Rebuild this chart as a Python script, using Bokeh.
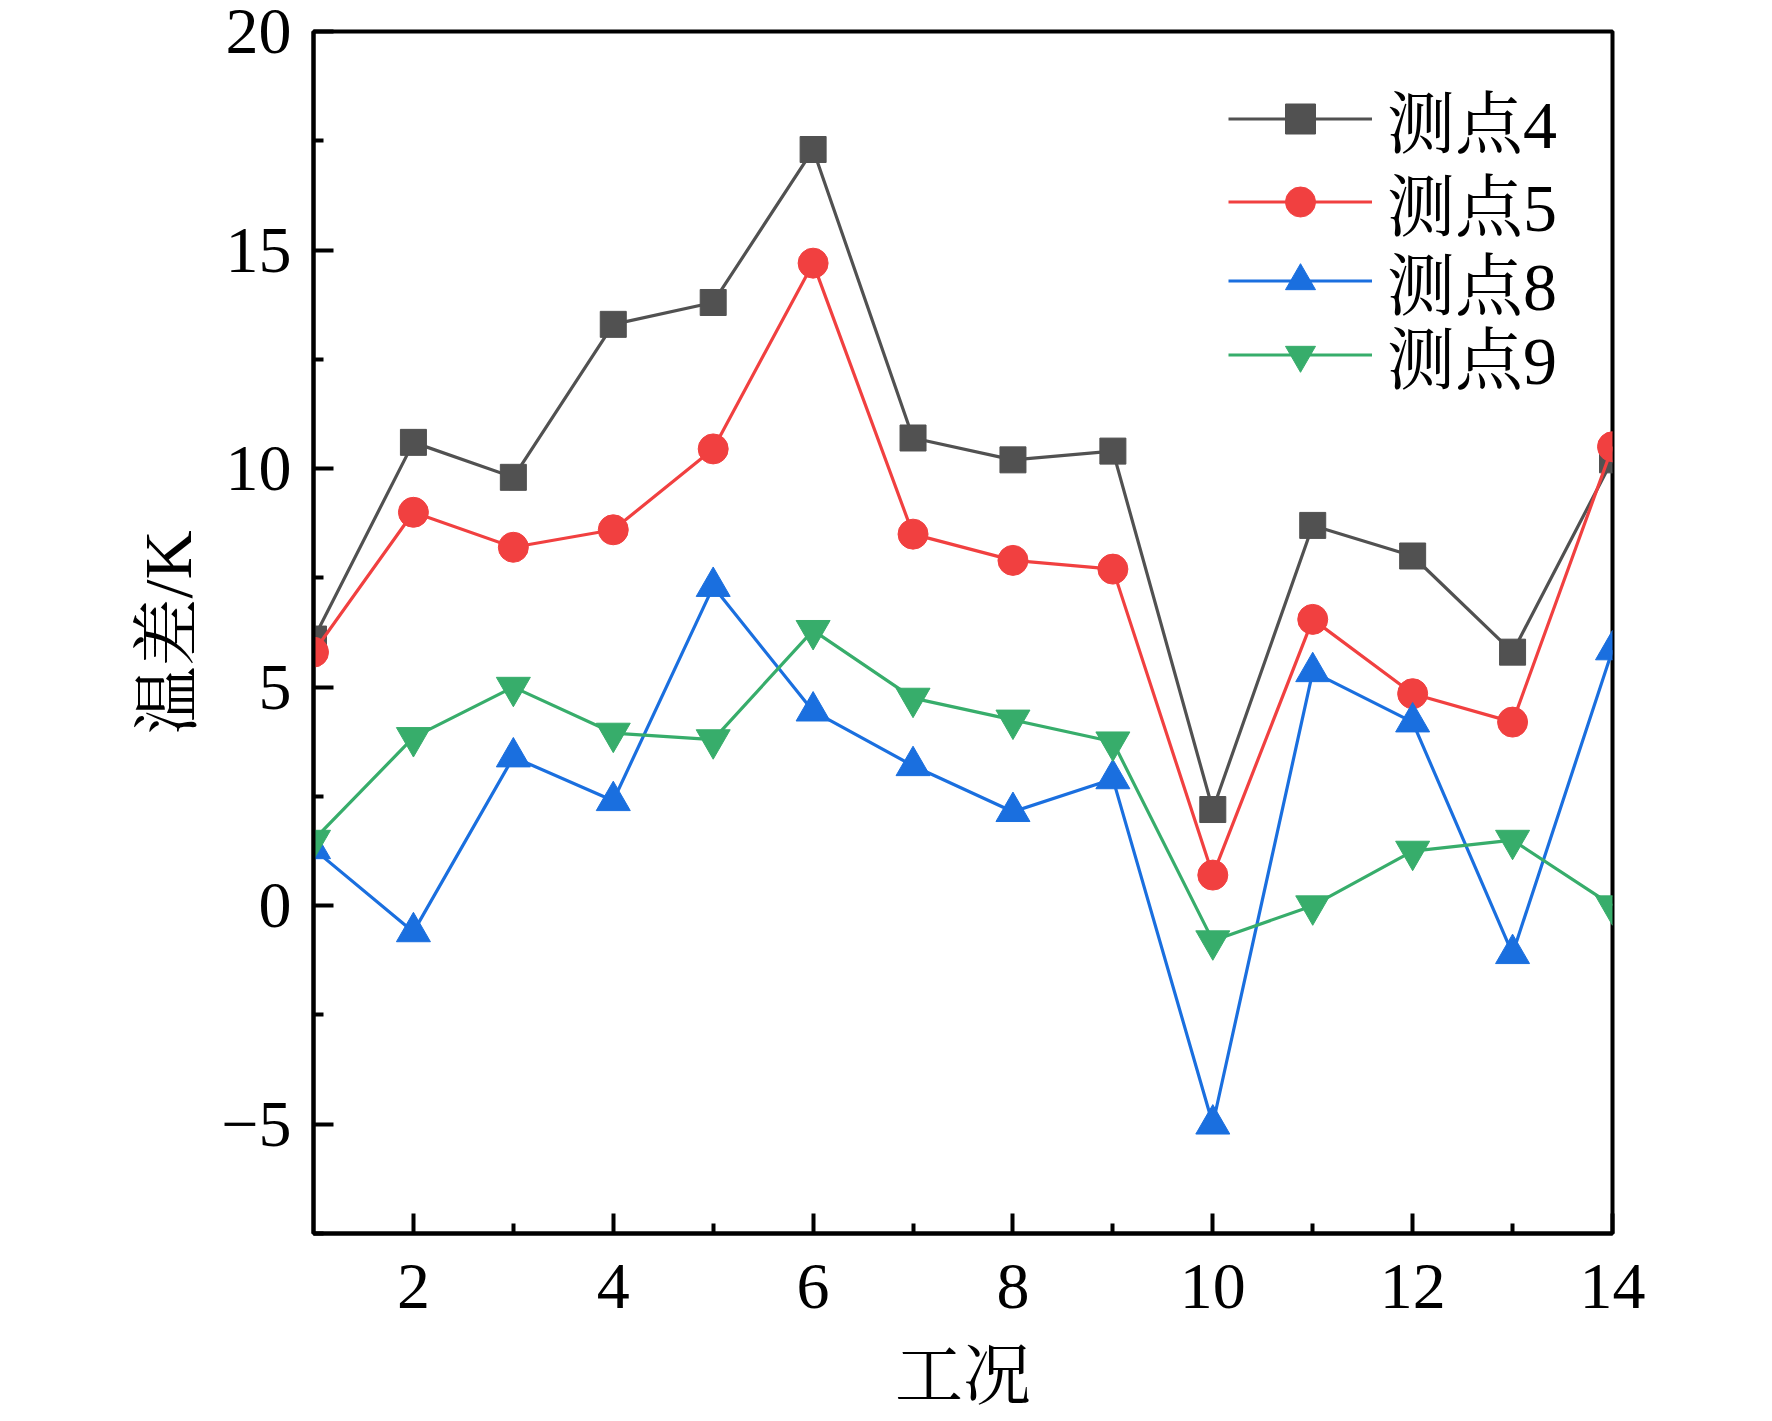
from bokeh.plotting import figure
from bokeh.models import Range1d, FixedTicker, Legend, LegendItem
from bokeh.embed import file_html
from bokeh.resources import INLINE

# ---- data ----
conditions = [1, 2, 3, 4, 5, 6, 7, 8, 9, 10, 11, 12, 13, 14]
p4 = [6.1, 10.6, 9.8, 13.3, 13.8, 17.3, 10.7, 10.2, 10.4, 2.2, 8.7, 8.0, 5.8, 10.2]
p5 = [5.8, 9.0, 8.2, 8.6, 10.45, 14.7, 8.5, 7.9, 7.7, 0.7, 6.55, 4.85, 4.2, 10.5]
p8 = [1.3, -0.6, 3.4, 2.4, 7.3, 4.45, 3.2, 2.15, 2.9, -5.0, 5.35, 4.2, -1.1, 5.85]
p9 = [1.5, 3.85, 5.0, 3.95, 3.8, 6.3, 4.75, 4.25, 3.75, -0.8, 0.0, 1.25, 1.5, 0.0]

series_names = ["测点4", "测点5", "测点8", "测点9"]
series_values = [p4, p5, p8, p9]
series_colors = ["#515151", "#F14040", "#1A6FDF", "#37AD6B"]
series_markers = ["square", "circle", "triangle", "inverted_triangle"]
series_sizes = [26, 30, 34, 34]

x_ticks = [2, 4, 6, 8, 10, 12, 14]
x_minor = [3, 5, 7, 9, 11, 13]
y_ticks = [-5, 0, 5, 10, 15, 20]
y_minor = [-7.5, -2.5, 2.5, 7.5, 12.5, 17.5]
y_tick_labels = {-5: "\u22125"}

x_label = "工况"
y_label = "温差/K"

FONT = "'Liberation Serif', 'Times New Roman', 'Noto Serif CJK SC', 'Noto Sans CJK SC', serif"

# legend row anchors (screen px from frame bottom-left)
legend_x = 915
legend_rows_y = [1066, 983, 904, 830]

p = figure(
    frame_width=1299, frame_height=1202,
    min_border_left=313, min_border_right=150,
    min_border_top=31, min_border_bottom=180,
    x_range=Range1d(1, 14), y_range=Range1d(-7.5, 20),
    output_backend="svg", toolbar_location=None,
)

p.xgrid.visible = False
p.ygrid.visible = False
p.outline_line_color = "black"
p.outline_line_width = 4
p.outline_line_alpha = 1.0

items = []
for name, vals, col, mk, sz in zip(series_names, series_values, series_colors,
                                    series_markers, series_sizes):
    ln = p.line(conditions, vals, line_color=col, line_width=3.2)
    sc = p.scatter(conditions, vals, marker=mk, size=sz, fill_color=col,
                   line_color=col, line_width=1)
    items.append(LegendItem(label=name, renderers=[ln, sc]))

for ax in (p.xaxis[0], p.yaxis[0]):
    ax.axis_line_width = 4
    ax.axis_line_color = "black"
    ax.major_tick_in = 20
    ax.major_tick_out = 0
    ax.minor_tick_in = 10
    ax.minor_tick_out = 0
    ax.major_tick_line_width = 4
    ax.minor_tick_line_width = 4
    ax.major_label_text_font = FONT
    ax.major_label_text_font_size = "66px"
    ax.major_label_text_color = "black"
    ax.axis_label_text_font = FONT
    ax.axis_label_text_font_size = "68px"
    ax.axis_label_text_font_style = "normal"
    ax.axis_label_text_color = "black"

p.xaxis[0].ticker = FixedTicker(ticks=x_ticks, minor_ticks=x_minor)
p.yaxis[0].ticker = FixedTicker(ticks=y_ticks, minor_ticks=y_minor)
p.yaxis[0].major_label_overrides = y_tick_labels
p.xaxis[0].axis_label = x_label
p.yaxis[0].axis_label = y_label
p.xaxis[0].major_label_standoff = 31
p.yaxis[0].major_label_standoff = 22
p.xaxis[0].axis_label_standoff = 27
p.yaxis[0].axis_label_standoff = 12

for item, ly in zip(items, legend_rows_y):
    legend = Legend(items=[item], location=(legend_x, ly))
    legend.label_text_font = FONT
    legend.label_text_font_size = "68px"
    legend.label_text_color = "black"
    legend.glyph_width = 144
    legend.glyph_height = 75
    legend.label_height = 75
    legend.label_standoff = 15
    legend.spacing = 0
    legend.padding = 0
    legend.margin = 0
    legend.border_line_alpha = 0
    legend.background_fill_alpha = 0
    p.add_layout(legend, "center")

open("out.html", "w").write(file_html(p, INLINE))
